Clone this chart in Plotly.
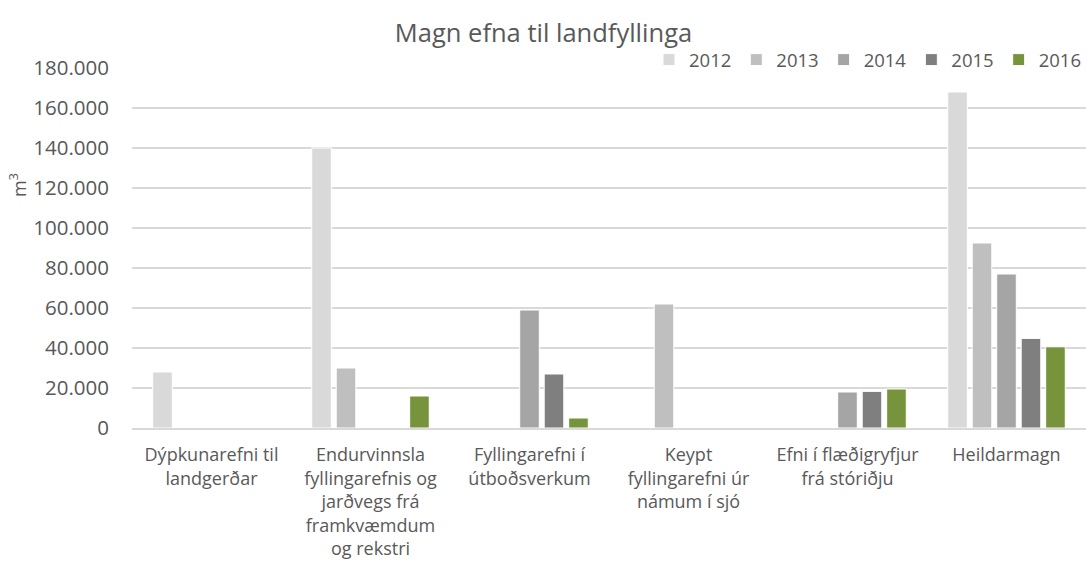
import plotly.graph_objects as go

categories = [
    "Dýpkunarefni til<br>landgerðar",
    "Endurvinnsla<br>fyllingarefnis og<br>jarðvegs frá<br>framkvæmdum<br>og rekstri",
    "Fyllingarefni í<br>útboðsverkum",
    "Keypt<br>fyllingarefni úr<br>námum í sjó",
    "Efni í flæðigryfjur<br>frá stóriðju",
    "Heildarmagn",
]
years = ["2012", "2013", "2014", "2015", "2016"]
v2012 = [28000, 140000, 0, 0, 0, 168000]
v2013 = [0, 30000, 0, 62000, 0, 92500]
v2014 = [0, 0, 59000, 0, 18000, 77000]
v2015 = [0, 0, 27000, 0, 18300, 44800]
v2016 = [0, 16000, 5000, 0, 19500, 40600]
series = [v2012, v2013, v2014, v2015, v2016]
colors = ["#D9D9D9", "#BFBFBF", "#A5A5A5", "#7F7F7F", "#77933C"]

FONT = "Open Sans"
TXT = "#595959"

fig = go.Figure()
for y, vals, c in zip(years, series, colors):
    fig.add_trace(go.Bar(
        name=y, x=categories, y=vals,
        marker=dict(color=c, line=dict(color="white", width=1)),
    ))

fig.update_layout(
    width=1087, height=567,
    paper_bgcolor="white", plot_bgcolor="white",
    separators=",.",
    barmode="group", bargap=0.23, bargroupgap=0.2,
    margin=dict(l=132, r=1, t=68, b=139, autoexpand=False),
    font=dict(family=FONT, color=TXT, size=18),
    title=dict(text="Magn efna til landfyllinga", x=0.5, xanchor="center",
               xref="container",
               y=1 - 33 / 567, yanchor="middle",
               font=dict(size=25.5, color=TXT, family=FONT)),
    legend=dict(orientation="h", x=1.0, xanchor="right", y=1.022, yanchor="middle",
                font=dict(size=18.5, color=TXT), bgcolor="rgba(0,0,0,0)",
                itemwidth=30, traceorder="normal", tracegroupgap=0),
    xaxis=dict(showgrid=False, tickfont=dict(size=18, color=TXT),
               showline=True, linecolor="#D9D9D9", linewidth=1.5, ticks="",
               ticklabelstandoff=10),
    yaxis=dict(range=[0, 180000], dtick=20000, tickformat=",d",
               showgrid=True, gridcolor="#D9D9D9", gridwidth=1.5,
               zeroline=False, tickfont=dict(size=20.5, color=TXT),
               ticks="", ticklabelstandoff=22),
    annotations=[dict(text="m<sup>3</sup>", xref="paper", yref="paper",
                      x=(18 - 132) / 954, y=(428 - 185) / 360, showarrow=False,
                      textangle=-90, font=dict(size=18, color=TXT),
                      xanchor="center", yanchor="middle")],
)

fig.write_html("out.html", config={"displayModeBar": False},
               post_script="document.body.style.margin='0';document.body.style.padding='0';")
